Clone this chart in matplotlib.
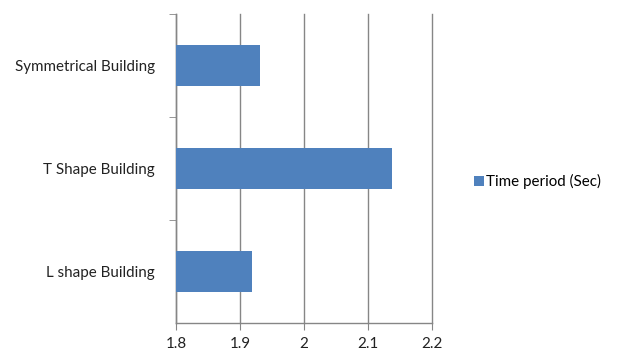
import matplotlib.pyplot as plt
from matplotlib.patches import Patch

edificios = ['L shape Building', 'T Shape Building', 'Symmetrical Building']
periodos = [1.919, 2.138, 1.931]
ticks_x = [1.8, 1.9, 2.0, 2.1, 2.2]
etiquetas_x = ['1.8', '1.9', '2', '2.1', '2.2']

plt.rcParams['font.family'] = ['Lato', 'DejaVu Sans']

fig = plt.figure(figsize=(6.18, 3.54), dpi=100)
ax = fig.add_axes([0.2848, 0.0884, 0.4137, 0.8721])

color_barra = '#4F81BD'
color_eje = '#868686'

ax.barh(range(len(edificios)), periodos, height=0.4, left=0,
        color=color_barra, zorder=3)
ax.set_xlim(1.8, 2.2)
ax.set_ylim(-0.5, len(edificios) - 0.5)

ax.set_xticks(ticks_x)
ax.set_xticklabels(etiquetas_x, fontsize=10.9)
ax.xaxis.grid(True, color=color_eje, linewidth=1.0, zorder=0)
for linea in ax.get_xgridlines():
    linea.set_clip_on(False)

ax.set_yticks(range(len(edificios)))
ax.set_yticklabels(edificios, fontsize=10.9)
ax.set_yticks([0.5, 1.5, 2.5], minor=True)

for lado in ['top', 'right']:
    ax.spines[lado].set_visible(False)
for lado in ['left', 'bottom']:
    ax.spines[lado].set_color(color_eje)
    ax.spines[lado].set_linewidth(1.0)

ax.tick_params(axis='y', which='major', length=0, pad=15, colors='#222222')
ax.tick_params(axis='y', which='minor', length=5, color=color_eje)
ax.tick_params(axis='x', length=5, color=color_eje, pad=5, colors='#222222')
ax.tick_params(axis='x', colors=color_eje, labelcolor='#222222')

leyenda = [Patch(facecolor=color_barra, label='Time period (Sec)')]
fig.legend(handles=leyenda, loc='center left', bbox_to_anchor=(0.745, 0.486),
           frameon=False, fontsize=10.9, handlelength=0.65, handleheight=0.7,
           handletextpad=0.15)

fig.savefig('out.png', dpi=100, facecolor='white')
